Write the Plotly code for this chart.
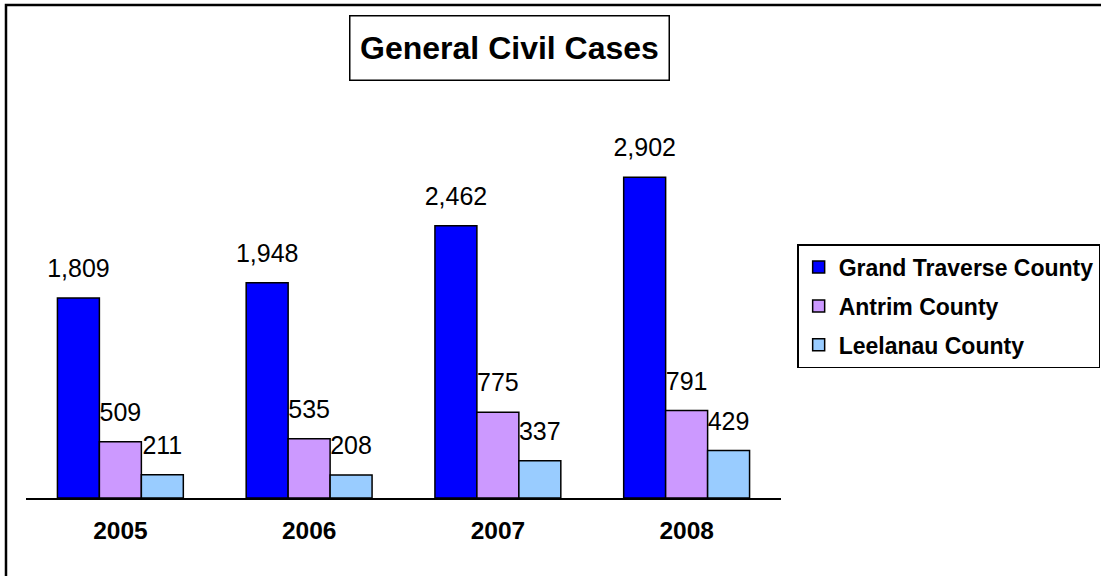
import plotly.graph_objects as go

years = ["2005", "2006", "2007", "2008"]
grand_traverse = [1809, 1948, 2462, 2902]
antrim = [509, 535, 775, 791]
leelanau = [211, 208, 337, 429]

series = [
    ("Grand Traverse County", grand_traverse, "#0000FF"),
    ("Antrim County", antrim, "#CC99FF"),
    ("Leelanau County", leelanau, "#99CCFF"),
]

FONT = "Liberation Sans, Arial, sans-serif"

fig = go.Figure()
for name, vals, color in series:
    fig.add_trace(go.Bar(
        name=name, x=years, y=vals,
        marker=dict(color=color, line=dict(color="black", width=1.5)),
        legendgroup=name,
        hoverinfo="skip",
    ))
for name, vals, color in series:
    fig.add_trace(go.Scatter(
        x=years, y=vals, mode="markers+text",
        text=[f"{v:,}" for v in vals],
        textposition="top center",
        textfont=dict(family=FONT, size=25, color="black"),
        marker=dict(size=22, opacity=0),
        showlegend=False, hoverinfo="skip", cliponaxis=False,
    ))

fig.update_layout(
    width=1101, height=576,
    margin=dict(l=26, r=320, t=100, b=78, autoexpand=False),
    paper_bgcolor="white", plot_bgcolor="white",
    barmode="group", bargap=0.333, bargroupgap=0,
    scattermode="group", scattergap=0.333,
    font=dict(family=FONT, color="black"),
    showlegend=True,
    legend=dict(
        x=1.0214, y=0.638, xanchor="left", yanchor="top",
        bordercolor="black", borderwidth=1.5, bgcolor="white",
        font=dict(family=FONT, size=23, color="black", weight="bold"),
        tracegroupgap=6,
    ),
    xaxis=dict(
        showline=True, linecolor="black", linewidth=1.5,
        ticks="", showgrid=False,
        tickfont=dict(family=FONT, size=24.5, color="black", weight="bold"),
        ticklabelstandoff=10,
    ),
    yaxis=dict(range=[0, 3600], visible=False, showgrid=False, zeroline=False),
    annotations=[dict(
        text="<b>General Civil Cases</b>",
        xref="paper", yref="paper", x=0.6404, y=1.1294,
        xanchor="center", yanchor="middle", showarrow=False,
        font=dict(family=FONT, size=32, color="black"),
        width=300, height=45,
        bordercolor="black", borderwidth=1.5, borderpad=9, bgcolor="white",
    )],
    shapes=[dict(
        type="rect", xref="paper", yref="paper",
        x0=-0.0265, x1=1.5, y0=-0.3, y1=1.2387,
        line=dict(color="black", width=2.5), layer="below",
    )],
)

fig.write_html(
    "out.html",
    config={"displayModeBar": False},
    post_script="document.body.style.margin='0';document.body.style.overflow='hidden';",
)
